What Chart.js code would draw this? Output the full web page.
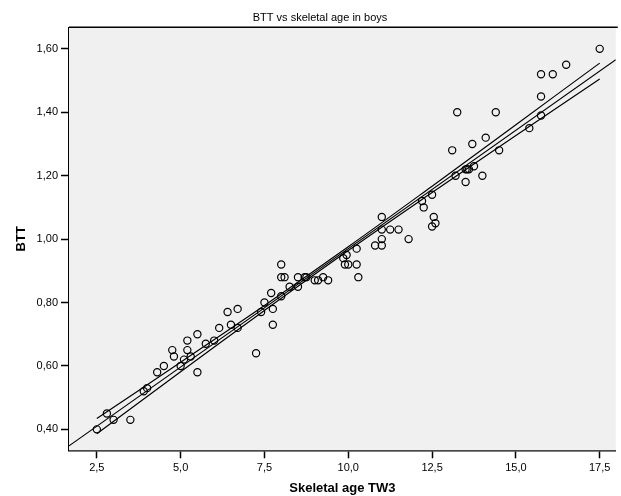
<!DOCTYPE html>
<html>
<head>
<meta charset="utf-8">
<script src="https://cdn.jsdelivr.net/npm/chart.js@4/dist/chart.umd.min.js"></script>
<style>
  html, body { margin: 0; padding: 0; background: #fff; overflow: hidden; }
  #wrap { position: relative; width: 621px; height: 496px; }
</style>
</head>
<body>
<div id="wrap"><canvas id="bttChart"></canvas></div>
<script>
// --- data ---
const ageTW3 = [
  2.5, 2.8, 3.0, 3.5, 3.9, 4.0, 4.3, 4.5, 4.75, 4.8,
  5.0, 5.1, 5.2, 5.2, 5.3, 5.5, 5.5, 5.75, 6.0, 6.15,
  6.4, 6.5, 6.7, 6.7, 7.25, 7.4, 7.5, 7.7, 7.75, 7.75,
  8.0, 8.0, 8.0, 8.1, 8.25, 8.5, 8.5, 8.7, 8.75, 9.0,
  9.1, 9.25, 9.4, 9.85, 9.95, 9.9, 10.0, 10.25, 10.25, 10.3,
  10.8, 11.0, 11.0, 11.0, 11.0, 11.25, 11.5, 11.8, 12.2, 12.25,
  12.5, 12.55, 12.6, 12.5, 13.1, 13.2, 13.5, 13.55, 13.6, 13.5,
  13.7, 13.75, 14.0, 14.1, 13.25, 14.4, 14.5, 15.4, 15.75, 15.75,
  15.75, 16.1, 16.5, 17.5
];
const bttValues = [
  0.40, 0.45, 0.43, 0.43, 0.52, 0.53, 0.58, 0.60, 0.65, 0.63,
  0.60, 0.62, 0.65, 0.68, 0.63, 0.70, 0.58, 0.67, 0.68, 0.72,
  0.77, 0.73, 0.72, 0.78, 0.64, 0.77, 0.80, 0.83, 0.78, 0.73,
  0.82, 0.92, 0.88, 0.88, 0.85, 0.88, 0.85, 0.88, 0.88, 0.87,
  0.87, 0.88, 0.87, 0.94, 0.95, 0.92, 0.92, 0.97, 0.92, 0.88,
  0.98, 0.98, 1.00, 1.03, 1.07, 1.03, 1.03, 1.00, 1.12, 1.10,
  1.14, 1.07, 1.05, 1.04, 1.28, 1.20, 1.22, 1.22, 1.22, 1.18,
  1.30, 1.23, 1.20, 1.32, 1.40, 1.40, 1.28, 1.35, 1.39, 1.45,
  1.52, 1.52, 1.55, 1.60
];

// fit line (edge to edge) and the band around it
const fitX = [1.67, 17.98];
const fitY = [0.348, 1.566];
const bandX = [2.5, 5.0, 7.5, 10.0, 12.5, 15.0, 17.5];
const bandUpper = [0.434, 0.612, 0.791, 0.976, 1.167, 1.361, 1.555];
const bandLower = [0.386, 0.582, 0.775, 0.964, 1.147, 1.327, 1.505];

const xTicks = [2.5, 5.0, 7.5, 10.0, 12.5, 15.0, 17.5];
const xTickLabels = ["2,5", "5,0", "7,5", "10,0", "12,5", "15,0", "17,5"];
const yTicks = [0.40, 0.60, 0.80, 1.00, 1.20, 1.40, 1.60];
const yTickLabels = ["0,40", "0,60", "0,80", "1,00", "1,20", "1,40", "1,60"];

const FONT = "Arial, 'Liberation Sans', sans-serif";

function toPoints(xs, ys) {
  return xs.map(function (x, i) { return { x: x, y: ys[i] }; });
}

// grey plot box with a frame, plus the title over it
const plotFrame = {
  id: "plotFrame",
  beforeDatasetsDraw: function (chart) {
    const a = chart.chartArea;
    const ctx = chart.ctx;
    ctx.save();
    ctx.fillStyle = "#f0f0f0";
    ctx.fillRect(a.left, a.top, a.right - a.left, a.bottom - a.top);
    ctx.restore();
  },
  afterDraw: function (chart) {
    const a = chart.chartArea;
    const ctx = chart.ctx;
    ctx.save();
    ctx.strokeStyle = "#000";
    ctx.lineWidth = 1.5;
    ctx.beginPath();
    ctx.moveTo(a.left, a.top);
    ctx.lineTo(a.right + 2, a.top);
    ctx.stroke();
    ctx.fillStyle = "#000";
    ctx.font = "11px " + FONT;
    ctx.textAlign = "center";
    ctx.textBaseline = "middle";
    ctx.fillText("BTT vs skeletal age in boys", 320, 18);
    ctx.restore();
  },
};

const lineStyle = {
  type: "line",
  borderColor: "#000",
  borderWidth: 1.2,
  pointRadius: 0,
  fill: false,
  tension: 0.4,
};

new Chart(document.getElementById("bttChart"), {
  type: "scatter",
  data: {
    datasets: [
      Object.assign({ label: "Fit", data: toPoints(fitX, fitY) }, lineStyle, { tension: 0 }),
      Object.assign({ label: "Upper", data: toPoints(bandX, bandUpper) }, lineStyle),
      Object.assign({ label: "Lower", data: toPoints(bandX, bandLower) }, lineStyle),
      {
        label: "BTT",
        data: toPoints(ageTW3, bttValues),
        pointStyle: "circle",
        pointRadius: 3.6,
        pointBorderWidth: 1.2,
        borderColor: "#000",
        backgroundColor: "rgba(0,0,0,0)",
      },
    ],
  },
  options: {
    responsive: true,
    maintainAspectRatio: false,
    animation: false,
    events: [],
    layout: { padding: { top: 27.3, right: 0, left: 0, bottom: 0 } },
    plugins: {
      legend: { display: false },
      title: { display: false },
      tooltip: { enabled: false },
    },
    scales: {
      x: {
        type: "linear",
        min: 1.67,
        max: 17.98,
        afterBuildTicks: function (scale) {
          scale.ticks = xTicks.map(function (v) { return { value: v }; });
        },
        afterFit: function (scale) { scale.height = 45.7; },
        ticks: {
          color: "#000",
          font: { family: FONT, size: 11 },
          padding: 3,
          maxRotation: 0,
          autoSkip: false,
          callback: function (value, index) { return xTickLabels[index]; },
        },
        grid: {
          drawOnChartArea: false,
          drawTicks: true,
          tickLength: 8,
          tickColor: "#000",
          tickWidth: 1.5,
        },
        border: { display: true, color: "#000", width: 1.5 },
        title: {
          display: true,
          text: "Skeletal age TW3",
          color: "#000",
          font: { family: FONT, size: 13, weight: "bold" },
          padding: { top: 0, bottom: 0 },
        },
      },
      y: {
        type: "linear",
        min: 0.334,
        max: 1.668,
        afterBuildTicks: function (scale) {
          scale.ticks = yTicks.map(function (v) { return { value: v }; });
        },
        afterFit: function (scale) { scale.width = 69; },
        ticks: {
          color: "#000",
          font: { family: FONT, size: 11 },
          padding: 3,
          autoSkip: false,
          callback: function (value, index) { return yTickLabels[index]; },
        },
        grid: {
          drawOnChartArea: false,
          drawTicks: true,
          tickLength: 8,
          tickColor: "#000",
          tickWidth: 1.5,
        },
        border: { display: true, color: "#000", width: 1.5 },
        title: {
          display: true,
          text: "BTT",
          color: "#000",
          font: { family: FONT, size: 13, weight: "bold" },
          padding: { top: 14, bottom: 0 },
        },
      },
    },
  },
  plugins: [plotFrame],
});
</script>
</body>
</html>
